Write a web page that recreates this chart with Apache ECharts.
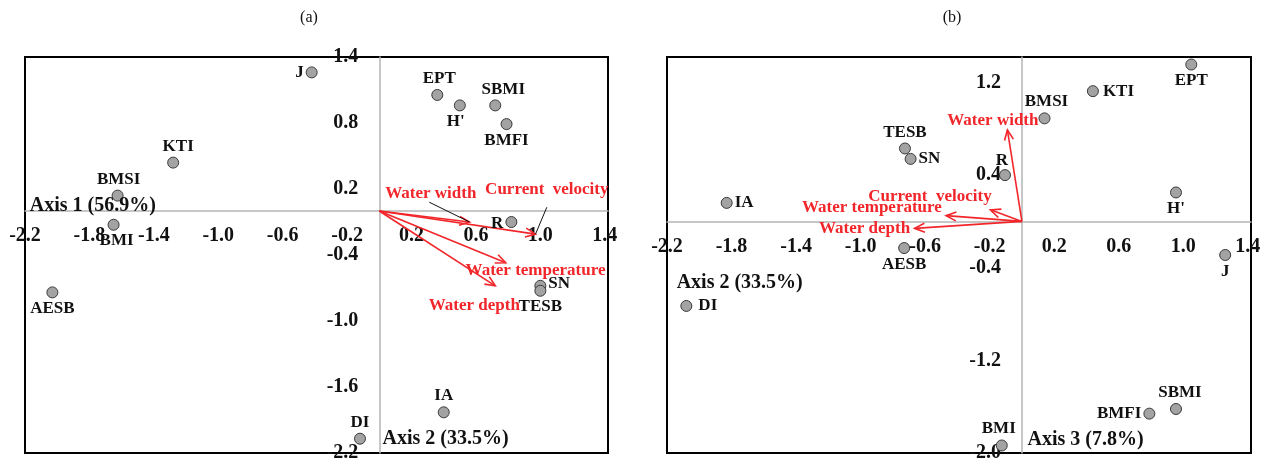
<!DOCTYPE html>
<html><head><meta charset="utf-8">
<script src="https://cdn.jsdelivr.net/npm/echarts@6/dist/echarts.min.js"></script>
<style>html,body{margin:0;padding:0;background:#fff}#c{width:1268px;height:460px}</style>
</head><body><div id="c"></div>
<script>
// ---- tick labels ----
const xTicks = [-2.2, -1.8, -1.4, -1.0, -0.6, -0.2, 0.2, 0.6, 1.0, 1.4];
const yTicksA = [-2.2, -1.6, -1.0, -0.4, 0.2, 0.8, 1.4];
const yTicksB = [-2.0, -1.2, -0.4, 0.4, 1.2];

// ---- panel (a): Axis 1 vs Axis 2 ----
const namesA = ['J', 'KTI', 'BMSI', 'BMI', 'AESB', 'EPT', "H'", 'SBMI', 'BMFI', 'R', 'SN', 'TESB', 'IA', 'DI'];
const xA = [-0.42, -1.28, -1.625, -1.65, -2.03, 0.36, 0.50, 0.72, 0.79, 0.82, 1.00, 1.00, 0.40, -0.12];
const yA = [1.26, 0.44, 0.14, -0.125, -0.74, 1.055, 0.96, 0.96, 0.79, -0.10, -0.68, -0.725, -1.83, -2.07];

// ---- panel (b): Axis 2 vs Axis 3 ----
const namesB = ['TESB', 'SN', 'IA', 'AESB', 'DI', 'BMSI', 'KTI', 'EPT', 'R', "H'", 'J', 'BMFI', 'SBMI', 'BMI'];
const xB = [-0.725, -0.69, -1.83, -0.73, -2.08, 0.14, 0.44, 1.05, -0.105, 0.955, 1.26, 0.79, 0.955, -0.125];
const yB = [0.63, 0.54, 0.16, -0.23, -0.73, 0.89, 1.125, 1.355, 0.40, 0.25, -0.29, -1.66, -1.62, -1.935];

// ---- environmental vectors ----
const envNames = ['Water width', 'Current  velocity', 'Water temperature', 'Water depth'];
const envXA = [0.56, 0.97, 0.785, 0.72];
const envYA = [-0.10, -0.21, -0.47, -0.68];
const envXB = [-0.09, -0.195, -0.47, -0.665];
const envYB = [0.79, 0.10, 0.05, -0.06];

const axisTitlesA = ['Axis 1 (56.9%)', 'Axis 2 (33.5%)'];
const axisTitlesB = ['Axis 2 (33.5%)', 'Axis 3 (7.8%)'];

// ---- layout (label placement, in data units) ----
const envLabelPosA = [[0.32, 0.16], [1.04, 0.19], [0.97, -0.54], [0.59, -0.86]];
const envLabelPosB = [[-0.18, 0.87], [-0.57, 0.21], [-0.93, 0.115], [-0.975, -0.06]];
const leaderA = [[0.31, 0.08, 0.56, -0.10], [1.04, 0.034, 0.97, -0.21]];
const axisTitlePosA = [[-2.17, 0.05], [0.02, -2.07]];
const axisTitlePosB = [[-2.14, -0.53], [0.035, -1.885]];
const ptLabelA = [['left',[0,0]],['top',[5,1]],['top',[1,1]],['bottom',[3,-1]],['bottom',[0,0]],['top',[2,0]],['bottom',[-4,0]],['top',[8,1]],['bottom',[0,0]],['left',[0,2]],['right',[0,-2]],['bottom',[0,-1]],['top',[0,0]],['top',[0,0]]];
const ptLabelB = [['top',[0,1]],['right',[0,0]],['right',[0,0]],['bottom',[0,0]],['right',[4,0]],['top',[2,0]],['right',[2,0]],['bottom',[0,0]],['top',[-3,2]],['bottom',[0,0]],['bottom',[0,0]],['left',[0,0]],['top',[4,0]],['top',[-3,0]]];

const FONT = '"Liberation Serif", "Times New Roman", serif';
const RED = '#f2262a';
const GRID_LEFT = [25, 667], GRID_BOTTOM = 7, H = 460;

function tickFmt(ticks) {
  return function (v) {
    return ticks.some(t => Math.abs(t - v) < 1e-6) ? v.toFixed(1) : '';
  };
}
function xAxisCfg(gi) {
  return {
    type: 'value', gridIndex: gi, position: 'bottom', min: xTicks[0], max: 1.42,
    interval: +(xTicks[1] - xTicks[0]).toFixed(4),
    axisLine: { onZero: false, lineStyle: { color: '#b5b5b5', width: 1.5 } },
    axisTick: { show: false }, splitLine: { show: false },
    axisLabel: { margin: 15, formatter: tickFmt(xTicks), fontFamily: FONT, fontWeight: 'bold', fontSize: 20, color: '#111' }
  };
}
function yAxisCfg(gi, ticks, max) {
  return {
    type: 'value', gridIndex: gi, position: 'left', min: ticks[0], max: max,
    interval: +(ticks[1] - ticks[0]).toFixed(4),
    axisLine: { onZero: false, lineStyle: { color: '#b5b5b5', width: 1.5 } },
    axisTick: { show: false }, splitLine: { show: false },
    axisLabel: { margin: 21, formatter: tickFmt(ticks), fontFamily: FONT, fontWeight: 'bold', fontSize: 20, color: '#111' }
  };
}
function scatterSeries(gi, names, xs, ys, lay) {
  return {
    type: 'scatter', xAxisIndex: gi, yAxisIndex: gi, symbolSize: 11, z: 5,
    itemStyle: { color: '#a3a3a3', borderColor: '#3a3a3a', borderWidth: 1, opacity: 1 },
    data: names.map((n, i) => ({
      name: n, value: [xs[i], ys[i]],
      label: { show: true, position: lay[i][0], offset: lay[i][1], distance: 2, formatter: '{b}',
        fontFamily: FONT, fontWeight: 'bold', fontSize: 17, color: '#111' }
    }))
  };
}
function arrowSeries(gi, xs, ys) {
  return {
    type: 'custom', xAxisIndex: gi, yAxisIndex: gi, z: 4, silent: true,
    data: xs.map((x, i) => [x, ys[i]]),
    renderItem: function (params, api) {
      const p0 = api.coord([0, 0]);
      const p1 = api.coord([api.value(0), api.value(1)]);
      const ang = Math.atan2(p1[1] - p0[1], p1[0] - p0[0]);
      const L = 11, a = 0.42;
      const h1 = [p1[0] - L * Math.cos(ang - a), p1[1] - L * Math.sin(ang - a)];
      const h2 = [p1[0] - L * Math.cos(ang + a), p1[1] - L * Math.sin(ang + a)];
      return { type: 'group', children: [
        { type: 'line', shape: { x1: p0[0], y1: p0[1], x2: p1[0], y2: p1[1] }, style: { stroke: RED, lineWidth: 1.6 } },
        { type: 'polyline', shape: { points: [h1, p1, h2] }, style: { stroke: RED, lineWidth: 1.6, fill: null } }
      ] };
    }
  };
}
function textSeries(gi, texts, pos, color, size, align) {
  return {
    type: 'custom', xAxisIndex: gi, yAxisIndex: gi, z: 6, silent: true,
    data: pos.map(p => [p[0], p[1]]),
    renderItem: function (params, api) {
      const p = api.coord([api.value(0), api.value(1)]);
      return { type: 'text', x: p[0], y: p[1], style: {
        text: texts[params.dataIndex], fill: color, font: 'bold ' + size + 'px ' + FONT,
        align: align, verticalAlign: 'middle' } };
    }
  };
}
function leaderSeries(gi, segs) {
  return {
    type: 'custom', xAxisIndex: gi, yAxisIndex: gi, z: 4, silent: true,
    data: segs,
    renderItem: function (params, api) {
      const a = api.coord([api.value(0), api.value(1)]);
      const b = api.coord([api.value(2), api.value(3)]);
      return { type: 'line', shape: { x1: a[0], y1: a[1], x2: b[0], y2: b[1] }, style: { stroke: '#111', lineWidth: 1 } };
    }
  };
}

const chart = echarts.init(document.getElementById('c'), null, { renderer: 'canvas' });
chart.setOption({
  animation: false,
  backgroundColor: '#fff',
  graphic: [
    { type: 'text', x: 309, y: 18, style: { text: '(a)', font: '16px ' + FONT, fill: '#111', align: 'center', verticalAlign: 'middle' } },
    { type: 'text', x: 952, y: 18, style: { text: '(b)', font: '16px ' + FONT, fill: '#111', align: 'center', verticalAlign: 'middle' } }
  ],
  grid: [
    { left: GRID_LEFT[0], right: 660, top: 57, bottom: GRID_BOTTOM, show: true, borderColor: '#000', borderWidth: 2, backgroundColor: 'transparent', outerBoundsMode: 'none' },
    { left: GRID_LEFT[1], right: 17, top: 57, bottom: GRID_BOTTOM, show: true, borderColor: '#000', borderWidth: 2, backgroundColor: 'transparent', outerBoundsMode: 'none' }
  ],
  xAxis: [xAxisCfg(0), xAxisCfg(1)],
  yAxis: [yAxisCfg(0, yTicksA, 1.4), yAxisCfg(1, yTicksB, 1.42)],
  series: [
    arrowSeries(0, envXA, envYA),
    leaderSeries(0, leaderA),
    textSeries(0, envNames, envLabelPosA, RED, 17, 'center'),
    textSeries(0, axisTitlesA, axisTitlePosA, '#111', 20, 'left'),
    scatterSeries(0, namesA, xA, yA, ptLabelA),
    arrowSeries(1, envXB, envYB),
    textSeries(1, envNames, envLabelPosB, RED, 17, 'center'),
    textSeries(1, axisTitlesB, axisTitlePosB, '#111', 20, 'left'),
    scatterSeries(1, namesB, xB, yB, ptLabelB)
  ]
});

// move both axes of each panel so that they cross at the origin (0, 0)
const xOff = [], yOff = [];
[0, 1].forEach(gi => {
  const o = chart.convertToPixel({ gridIndex: gi }, [0, 0]);
  xOff.push({ offset: -((H - GRID_BOTTOM) - o[1]) });
  yOff.push({ offset: -(o[0] - GRID_LEFT[gi]) });
});
chart.setOption({ xAxis: xOff, yAxis: yOff });
</script>
</body></html>
